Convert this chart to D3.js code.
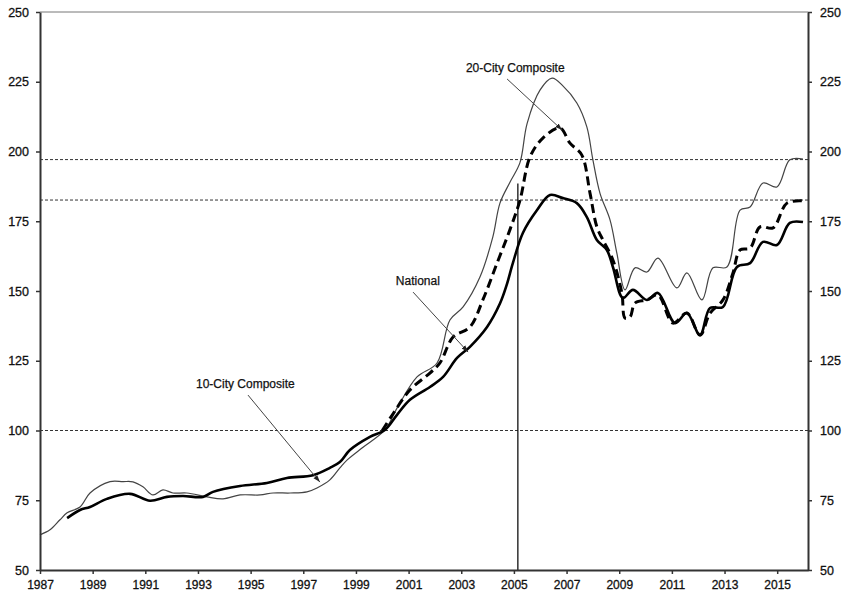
<!DOCTYPE html>
<html><head><meta charset="utf-8">
<script src="https://cdn.jsdelivr.net/npm/d3@7"></script>
<style>
body{margin:0;background:#fff}
svg{display:block}
text{font-family:Arial,"Liberation Sans",sans-serif}
</style>
</head><body>
<svg id="chart" width="843" height="597"></svg>
<script>
// ---- data ----
const tenCityDates  = [1987.00,1987.38,1987.76,1988.03,1988.52,1988.90,1989.66,1990.15,1990.53,1990.91,1991.29,1991.67,1992.05,1992.58,1993.34,1993.95,1994.60,1995.36,1995.85,1996.50,1997.14,1997.52,1998.01,1998.39,1998.66,1999.27,2000.10,2000.56,2001.32,2002.08,2002.57,2003.07,2003.71,2004.20,2004.47,2004.85,2005.23,2005.50,2005.99,2006.45,2006.86,2007.39,2007.77,2008.00,2008.27,2008.65,2008.91,2009.22,2009.60,2010.05,2010.47,2011.19,2011.57,2012.14,2012.56,2013.09,2013.59,2013.97,2014.46,2014.99,2015.48,2015.98];
const tenCityValues = [62.6,64.4,68.0,70.5,72.6,77.6,81.7,81.7,81.6,79.8,76.9,78.7,77.6,77.6,76.2,75.5,76.9,76.9,77.6,77.6,78.0,79.4,82.3,86.6,89.4,94.0,100.2,108.0,119.2,124.2,139.6,144.3,155.0,169.4,181.5,189.0,196.0,210.0,222.0,226.3,223.5,217.4,208.8,197.0,185.0,175.5,163.6,150.4,158.3,156.8,161.8,151.1,156.5,146.8,158.3,158.6,179.0,180.1,188.7,187.3,197.0,197.3];

const twentyCityDates  = [2000.00,2000.41,2001.05,2001.81,2002.19,2002.69,2003.33,2003.82,2004.36,2004.85,2005.23,2005.61,2006.10,2006.75,2007.13,2007.58,2007.89,2008.15,2008.38,2008.76,2009.10,2009.22,2009.41,2009.60,2010.05,2010.47,2011.04,2011.57,2012.07,2012.45,2012.94,2013.32,2013.59,2013.97,2014.35,2014.84,2015.37,2015.98];
const twentyCityValues = [100.0,106.0,114.5,120.6,124.2,133.5,137.1,146.8,160.0,172.0,182.5,198.0,204.8,208.4,203.0,198.7,185.1,173.0,168.3,161.1,149.3,140.3,140.7,145.7,146.8,148.6,138.5,142.1,134.2,142.1,146.8,156.5,164.7,165.4,173.0,172.6,181.5,182.3];

const nationalDates  = [1988.03,1988.52,1988.90,1989.54,1990.42,1991.18,1991.82,1992.43,1993.19,1993.57,1994.60,1995.62,1996.38,1997.37,1998.01,1998.39,1998.77,1999.53,2000.10,2000.56,2001.05,2001.81,2002.31,2002.84,2003.33,2003.98,2004.47,2004.72,2004.96,2005.34,2005.88,2006.37,2006.86,2007.39,2007.77,2008.15,2008.53,2008.76,2009.14,2009.52,2010.05,2010.47,2011.12,2011.57,2012.07,2012.45,2012.94,2013.47,2013.97,2014.46,2014.99,2015.48,2015.98];
const nationalValues = [68.6,71.5,72.6,75.5,77.3,74.8,76.2,76.5,76.2,78.0,80.1,81.2,83.0,84.0,86.6,88.7,93.0,97.7,100.2,105.6,111.0,115.6,119.2,126.0,130.0,137.1,145.5,152.0,160.0,170.8,179.0,184.4,183.3,181.5,176.5,168.3,164.7,158.6,147.5,150.4,146.8,149.3,138.5,142.1,134.2,143.9,144.3,158.6,160.0,167.6,166.5,174.4,174.7];

const yTickValues = [50,75,100,125,150,175,200,225,250];
const xTickValues = [1987,1989,1991,1993,1995,1997,1999,2001,2003,2005,2007,2009,2011,2013,2015];
const refLevels = [100, 182.6, 197.1];
const markerYear = 2005.15, markerTop = 188.5;

const annotationNames = ["20-City Composite","National","10-City Composite"];
const annotationTextYears  = [2005.05, 2001.35, 1994.8];
const annotationTextValues = [229.5, 153.2, 116.3];
const arrowFromYears  = [2004.74, 2001.17, 1994.90];
const arrowFromValues = [226.0, 149.6, 112.7];
const arrowToYears    = [2006.83, 2003.26, 1997.63];
const arrowToValues   = [207.7, 128.1, 81.5];

// ---- chart ----
const svg = d3.select("#chart");
const L = 40, R = 808, T = 12, B = 570;
const x = d3.scaleLinear().domain([1987, 2016.17]).range([L, R]);
const y = d3.scaleLinear().domain([50, 250]).range([B, T]);

svg.append("defs").append("marker")
  .attr("id","arr").attr("viewBox","0 0 10 10").attr("refX",10).attr("refY",5)
  .attr("markerWidth",7).attr("markerHeight",7).attr("orient","auto")
  .append("path").attr("d","M0,1.5L10,5L0,8.5Z").attr("fill","#222");

// top border
svg.append("line").attr("x1",L).attr("x2",R).attr("y1",T).attr("y2",T)
  .attr("stroke","#777").attr("stroke-width",1);

// reference dotted lines
svg.selectAll(".ref").data(refLevels).join("line")
  .attr("x1",L).attr("x2",R).attr("y1",d=>y(d)).attr("y2",d=>y(d))
  .attr("stroke","#333").attr("stroke-width",1).attr("stroke-dasharray","3,2");

// vertical marker
svg.append("line").attr("x1",x(markerYear)).attr("x2",x(markerYear))
  .attr("y1",y(markerTop)).attr("y2",y(50)).attr("stroke","#111").attr("stroke-width",1.3);

const line = d3.line().x(d=>x(d[0])).y(d=>y(d[1])).curve(d3.curveCatmullRom.alpha(0.5));
const zip = (a,b)=>a.map((v,i)=>[v,b[i]]);

svg.append("path").datum(zip(tenCityDates,tenCityValues)).attr("d",line)
  .attr("fill","none").attr("stroke","#444").attr("stroke-width",1.2);
svg.append("path").datum(zip(nationalDates,nationalValues)).attr("d",line)
  .attr("fill","none").attr("stroke","#000").attr("stroke-width",2.6);
svg.append("path").datum(zip(twentyCityDates,twentyCityValues)).attr("d",line)
  .attr("fill","none").attr("stroke","#000").attr("stroke-width",3).attr("stroke-dasharray","9,5");

// axes
const fmt = d3.format("d");
const gl = svg.append("g").attr("transform",`translate(${L},0)`)
  .call(d3.axisLeft(y).tickValues(yTickValues).tickSize(4).tickSizeOuter(0).tickPadding(7).tickFormat(fmt));
const gr = svg.append("g").attr("transform",`translate(${R},0)`)
  .call(d3.axisRight(y).tickValues(yTickValues).tickSize(4).tickSizeOuter(0).tickPadding(8).tickFormat(fmt));
const gb = svg.append("g").attr("transform",`translate(0,${B})`)
  .call(d3.axisBottom(x).tickValues(xTickValues).tickSize(4).tickSizeOuter(0).tickPadding(6).tickFormat(fmt));
[gl,gr,gb].forEach(g=>{
  g.select(".domain").attr("stroke","#333").attr("stroke-width",2);
  g.selectAll(".tick line").attr("stroke","#333").attr("stroke-width",1.5);
  g.selectAll(".tick text").attr("fill","#111").attr("stroke","#111").attr("stroke-width",0.3)
    .attr("font-size",12.5).attr("font-family","Arial, 'Liberation Sans', sans-serif");
});
gb.selectAll(".tick text").attr("font-size",12);

// annotations
annotationNames.forEach((n,i)=>{
  svg.append("text").attr("x",x(annotationTextYears[i])).attr("y",y(annotationTextValues[i]))
    .attr("text-anchor","middle").attr("dominant-baseline","middle")
    .attr("font-size",12).attr("fill","#111").attr("stroke","#111").attr("stroke-width",0.25).text(n);
  svg.append("line")
    .attr("x1",x(arrowFromYears[i])).attr("y1",y(arrowFromValues[i]))
    .attr("x2",x(arrowToYears[i])).attr("y2",y(arrowToValues[i]))
    .attr("stroke","#444").attr("stroke-width",1).attr("marker-end","url(#arr)");
});
</script>
</body></html>
